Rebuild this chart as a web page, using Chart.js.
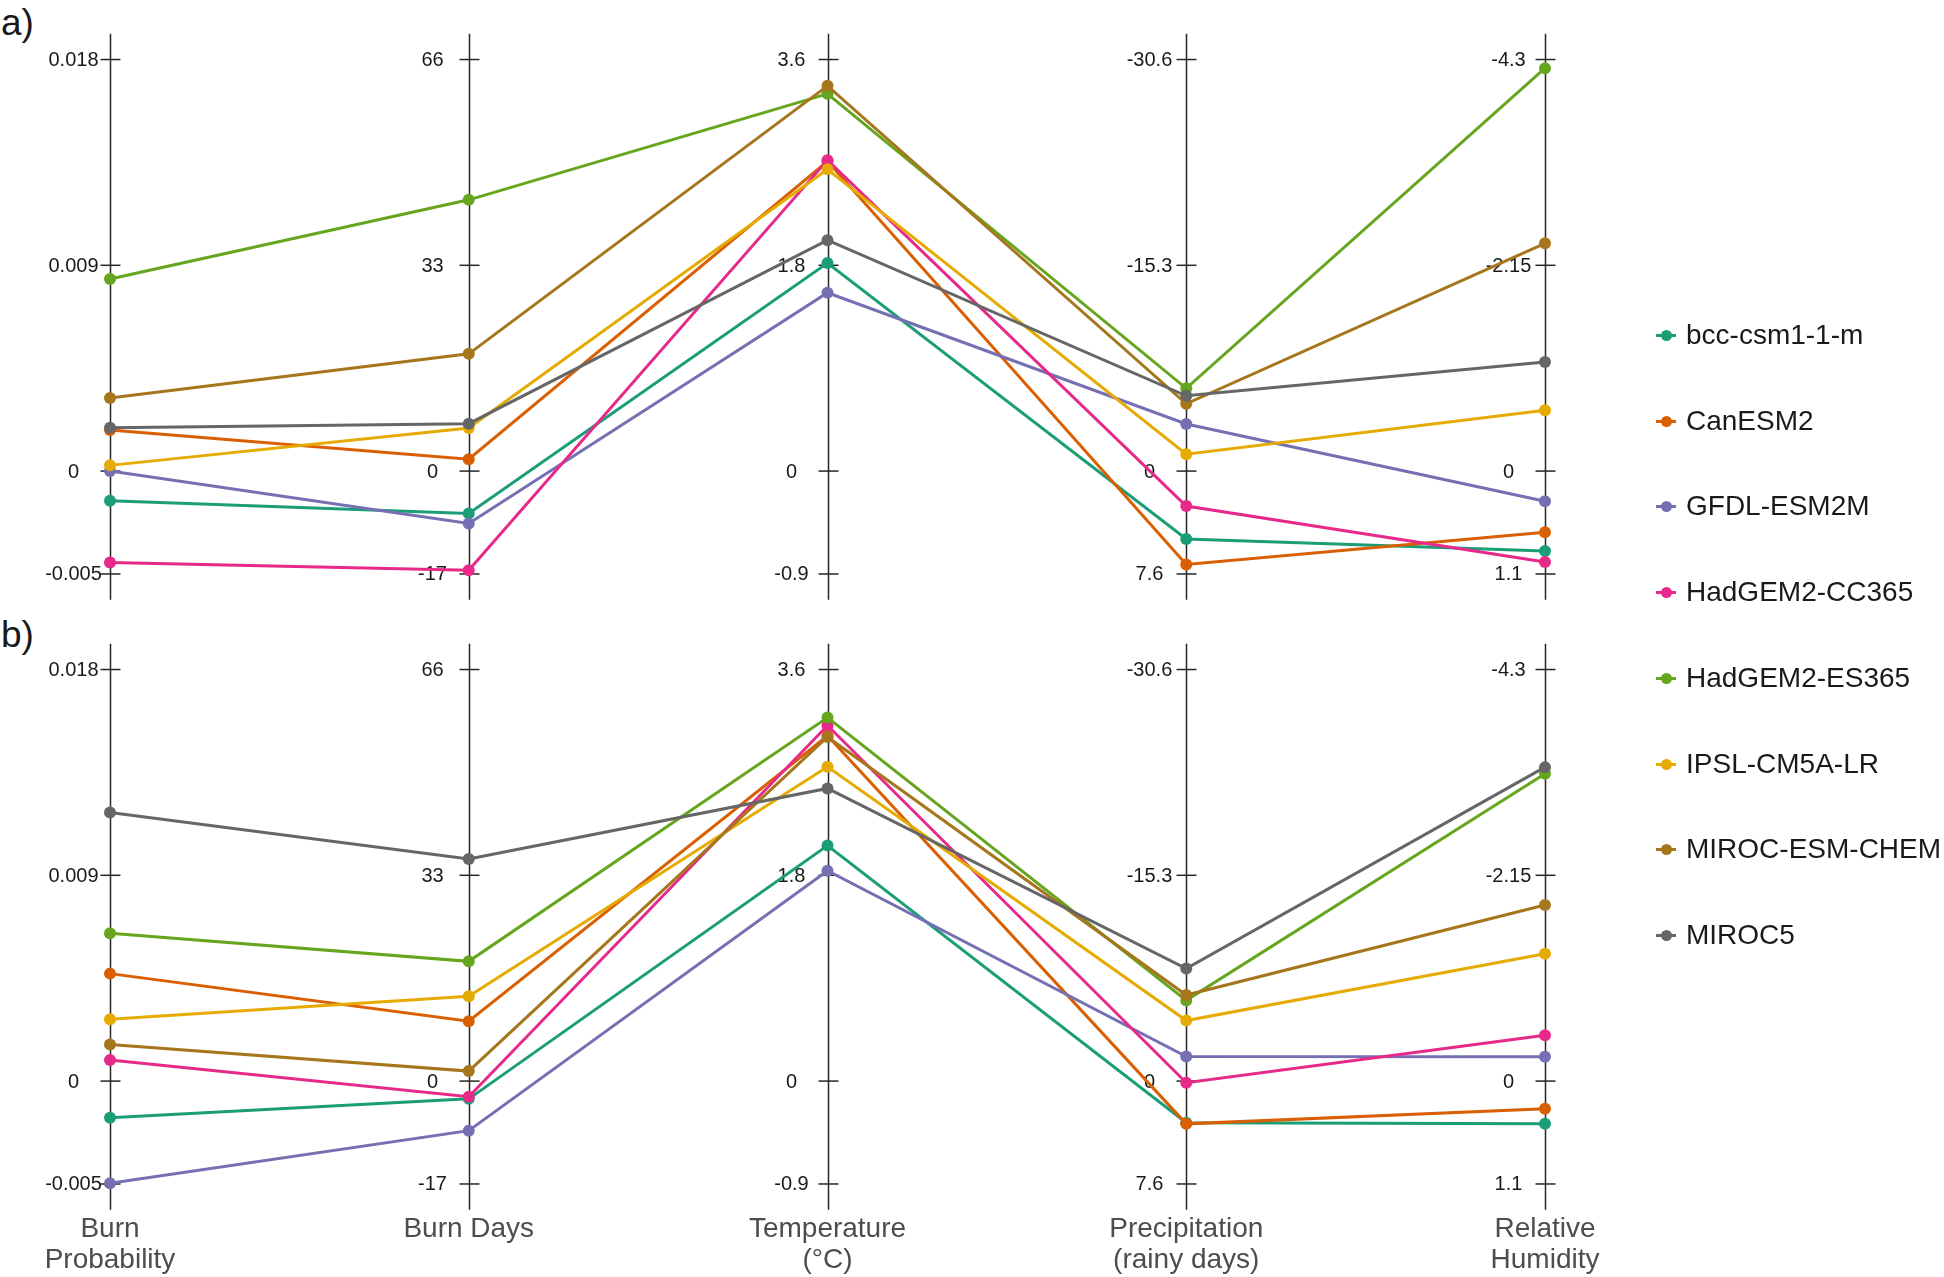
<!DOCTYPE html>
<html>
<head>
<meta charset="utf-8">
<script src="https://cdn.jsdelivr.net/npm/chart.js@4.4.1/dist/chart.umd.min.js"></script>
<style>
    body { margin: 0; background: #fff; width: 1944px; height: 1277px; position: relative; overflow: hidden;
           font-family: "Liberation Sans", Arial, sans-serif; }
    canvas { position: absolute; left: 0; }
    #panelA { top: 0; }
    #panelB { top: 620px; }
    .tag { position: absolute; left: 1px; font-size: 37px; line-height: 37px; color: #1a1a1a; }
    .item { position: absolute; left: 1656px; height: 30px; display: flex; align-items: center;
            white-space: nowrap; font-size: 28px; color: #1a1a1a; }
    .key { position: relative; width: 20px; height: 30px; margin-right: 10px; }
    .key .ln { position: absolute; left: 0; top: 13.5px; width: 20px; height: 3px; }
    .key .dot { position: absolute; left: 4.5px; top: 9.5px; width: 11px; height: 11px; border-radius: 50%; }
</style>
</head>
<body>
<div class="tag" style="top:4px">a)</div>
<div class="tag" style="top:616px">b)</div>
<canvas id="panelA" width="1944" height="620"></canvas>
<canvas id="panelB" width="1944" height="657"></canvas>
<div id="legend"></div>
<script>
const models = ['bcc-csm1-1-m', 'CanESM2', 'GFDL-ESM2M', 'HadGEM2-CC365', 'HadGEM2-ES365', 'IPSL-CM5A-LR', 'MIROC-ESM-CHEM', 'MIROC5'];
const colors = ['#1B9E77', '#D95F02', '#7570B3', '#E7298A', '#66A61E', '#E6AB02', '#A6761D', '#666666'];

const variables = [['Burn', 'Probability'], ['Burn Days'], ['Temperature', '(°C)'], ['Precipitation', '(rainy days)'], ['Relative', 'Humidity']];
// value at the top tick and at the bottom tick of each axis
const axisTop = [0.018, 66, 3.6, -30.6, -4.3];
const axisBottom = [-0.0045, -16.5, -0.9, 7.65, 1.075];
const tickLabels = [
    ['0.018', '0.009', '0', '-0.005'],
    ['66', '33', '0', '-17'],
    ['3.6', '1.8', '0', '-0.9'],
    ['-30.6', '-15.3', '0', '7.6'],
    ['-4.3', '-2.15', '0', '1.1'],
];

// panel a) one value per model, in legend order
const aBurnProb = [-0.0013, 0.0018, 0.0000, -0.0040, 0.0084, 0.00025, 0.0032, 0.0019];
const aBurnDays = [-6.8, 1.9, -8.4, -15.9, 43.5, 6.9, 18.8, 7.6];
const aTemp = [1.82, 2.71, 1.56, 2.72, 3.30, 2.64, 3.37, 2.02];
const aPrecip = [5.05, 6.95, -3.5, 2.6, -6.15, -1.25, -5.0, -5.6];
const aRH = [0.835, 0.64, 0.315, 0.95, -4.21, -0.635, -2.38, -1.14];

// panel b)
const bBurnProb = [-0.0016, 0.0047, -0.00447, 0.00092, 0.00647, 0.0027, 0.0016, 0.01175];
const bBurnDays = [-2.85, 9.6, -7.95, -2.5, 19.2, 13.6, 1.6, 35.6];
const bTemp = [2.06, 3.02, 1.84, 3.11, 3.18, 2.75, 3.01, 2.56];
const bPrecip = [3.1, 3.18, -1.82, 0.12, -6.0, -4.5, -6.4, -8.37];
const bRH = [0.445, 0.29, -0.255, -0.48, -3.21, -1.33, -1.84, -3.28];

const FONT = '"Liberation Sans", Arial, sans-serif';

const parallelAxes = {
    id: 'parallelAxes',
    beforeDatasetsDraw(chart) {
        const { ctx, scales: { x, y } } = chart;
        ctx.save();
        ctx.strokeStyle = '#262626';
        ctx.lineWidth = 1.5;
        ctx.fillStyle = '#1a1a1a';
        ctx.font = '20px ' + FONT;
        ctx.textAlign = 'center';
        ctx.textBaseline = 'middle';
        axisTop.forEach((top, i) => {
            const px = Math.round(x.getPixelForValue(i)) + 0.5;
            ctx.beginPath();
            ctx.moveTo(px, y.top);
            ctx.lineTo(px, y.bottom);
            ctx.stroke();
            const ticks = [top, top / 2, 0, axisBottom[i]];
            ticks.forEach((t, k) => {
                const py = y.getPixelForValue(t / top);
                ctx.beginPath();
                ctx.moveTo(px - 10, py);
                ctx.lineTo(px + 10, py);
                ctx.stroke();
                ctx.fillText(tickLabels[i][k], px - 37, py + 1);
            });
        });
        ctx.restore();
    },
    afterDraw(chart, args, opts) {
        if (!opts.titles) return;
        const { ctx, scales: { x, y } } = chart;
        ctx.save();
        ctx.fillStyle = '#4d4d4d';
        ctx.font = '28px ' + FONT;
        ctx.textAlign = 'center';
        ctx.textBaseline = 'middle';
        variables.forEach((lines, i) => {
            const px = x.getPixelForValue(i);
            lines.forEach((line, k) => ctx.fillText(line, px, y.bottom + 20 + k * 31));
        });
        ctx.restore();
    }
};

function makePanel(id, columns, pad, titles) {
    const datasets = models.map((name, m) => ({
        label: name,
        data: columns.map((col, i) => col[m] / axisTop[i]),
        borderColor: colors[m],
        backgroundColor: colors[m],
        borderWidth: 3,
        pointRadius: 6,
        pointBorderWidth: 0,
        tension: 0,
        clip: false,
        order: models.length - m,
    }));
    return new Chart(document.getElementById(id), {
        type: 'line',
        data: { labels: variables.map(v => v.join(' ')), datasets },
        options: {
            responsive: false,
            animation: false,
            events: [],
            layout: { padding: pad },
            scales: {
                x: { display: false, offset: false },
                y: { display: false, min: -0.3125, max: 1.0625 },
            },
            plugins: {
                legend: { display: false },
                tooltip: { enabled: false },
                parallelAxes: { titles },
            },
        },
        plugins: [parallelAxes],
    });
}

makePanel('panelA', [aBurnProb, aBurnDays, aTemp, aPrecip, aRH],
    { left: 110, right: 399, top: 33.8, bottom: 20.3 }, false);
makePanel('panelB', [bBurnProb, bBurnDays, bTemp, bPrecip, bRH],
    { left: 110, right: 399, top: 23.8, bottom: 67.3 }, true);

// legend
const legendRows = [335, 421, 506, 592, 678, 764, 849, 935];
const legend = document.getElementById('legend');
models.forEach((name, m) => {
    const item = document.createElement('div');
    item.className = 'item';
    item.style.top = (legendRows[m] - 15) + 'px';
    item.innerHTML = `<span class="key"><span class="ln" style="background:${colors[m]}"></span>` +
        `<span class="dot" style="background:${colors[m]}"></span></span><span>${name}</span>`;
    legend.appendChild(item);
});
</script>
</body>
</html>
